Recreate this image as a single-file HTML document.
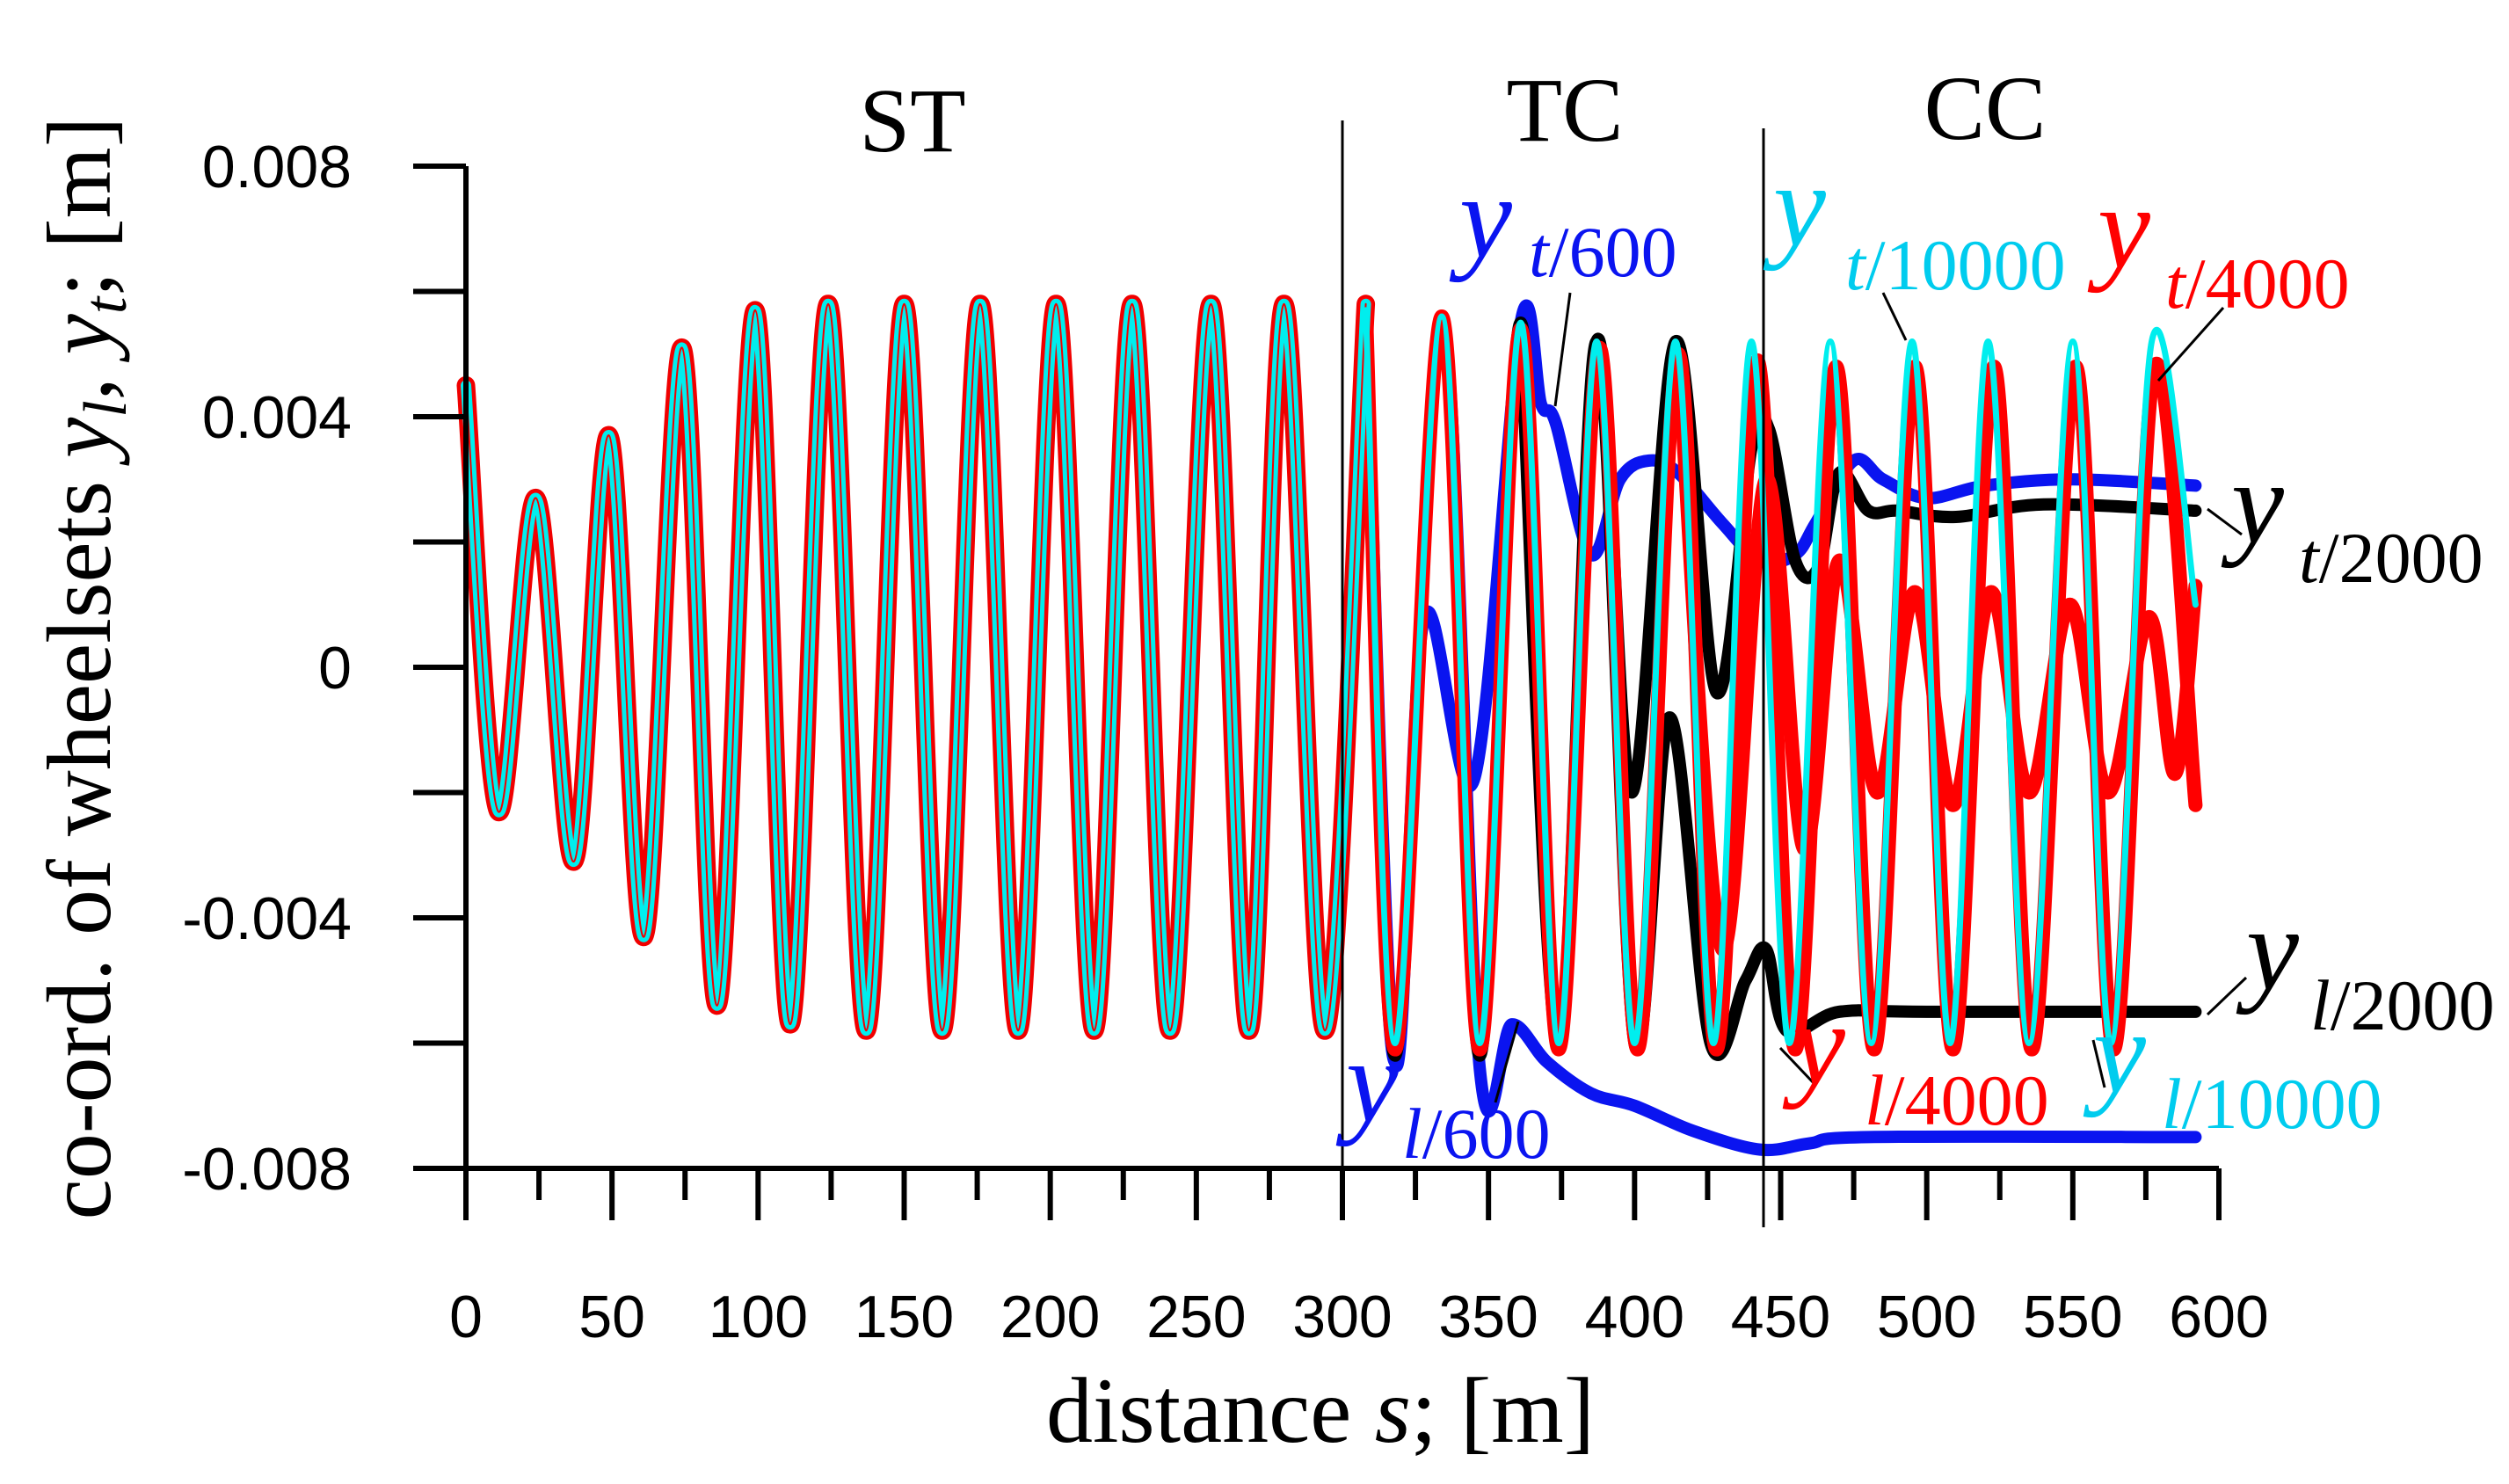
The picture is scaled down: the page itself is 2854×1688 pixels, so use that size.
<!DOCTYPE html>
<html><head><meta charset="utf-8"><style>
html,body{margin:0;padding:0;background:#fff;width:2854px;height:1688px;overflow:hidden}
svg{display:block}
text{font-family:"Liberation Serif",serif}
.tick{font-family:"Liberation Sans",sans-serif;font-size:68px}
</style></head><body>
<svg id="chart" width="2854" height="1688" viewBox="0 0 2854 1688" xmlns="http://www.w3.org/2000/svg">
<g id="marks"></g>
<g id="axes"></g>
<g id="labels"></g>
</svg>
<script>
const xTicks=[0,50,100,150,200,250,300,350,400,450,500,550,600];
const yTicks=[0.008,0.004,0,-0.004,-0.008];
const yTickLabels=["0.008","0.004","0","-0.004","-0.008"];
const stCommon=[[0,0.0045],[11,-0.0023],[24,0.0027],[37,-0.0031],[49,0.0037],[61,-0.0043],[74,0.0051],[86,-0.0054],[99,0.0057],[111,-0.0057],[124,0.0058],[137,-0.0058],[150,0.0058],[163,-0.0058],[176,0.0058],[189,-0.0058],[202,0.0058],[215,-0.0058],[228,0.0058],[241,-0.0058],[255,0.0058],[268,-0.0058],[280,0.0058],[294,-0.0058],[308,0.0058]];
const blueT=[[308,0.0058],[318,-0.0063],[328,0.0008],[345,-0.0018],[361,0.0055],[368,0.0042],[373,0.0039],[385,0.0018],[395,0.0030],[405,0.0033],[415,0.0031],[430,0.0023],[443,0.0017],[455,0.0018],[462,0.0023],[475,0.0033],[485,0.0030],[500,0.0027],[520,0.0029],[550,0.0030],[592,0.0029]];
const blueL=[[308,0.0058],[318,-0.0063],[334,0.0056],[347,-0.0064],[358,-0.0057],[370,-0.0063],[385,-0.0068],[400,-0.0070],[420,-0.0074],[443,-0.0077],[460,-0.0076],[480,-0.0075],[592,-0.0075]];
const blackT=[[308,0.0058],[318,-0.0062],[334,0.0056],[347,-0.0062],[361,0.0055],[374,-0.0061],[387,0.0052],[399,-0.0020],[414,0.0052],[428,-0.0004],[440,0.0035],[446,0.0038],[455,0.0017],[463,0.0016],[470,0.0031],[480,0.0025],[490,0.0025],[510,0.0024],[540,0.0026],[592,0.0025]];
const blackL=[[361,0.0055],[374,-0.0061],[387,0.0052],[400,-0.0060],[412,-0.0008],[426,-0.0060],[438,-0.0050],[445,-0.0045],[452,-0.0058],[470,-0.0055],[500,-0.0055],[592,-0.0055]];
const redL=[[308,0.0058],[318,-0.0061],[334,0.0056],[347,-0.0061],[361,0.0054],[374,-0.0061],[388,0.0051],[401,-0.0061],[415,0.0050],[428,-0.0061],[442,0.0049],[455,-0.0061],[469,0.0048],[482,-0.0061],[496,0.0048],[509,-0.0061],[523,0.0048],[536,-0.0061],[551,0.0048],[564,-0.0061],[578,0.0048],[592,-0.0022]];
const redT=[[415,0.0050],[430,-0.0045],[445,0.0030],[458,-0.0029],[470,0.0017],[483,-0.0020],[496,0.0012],[509,-0.0022],[522,0.0012],[535,-0.0020],[549,0.0010],[562,-0.0020],[576,0.0008],[585,-0.0017],[592,0.0013]];
const cyanS=[[308,0.0057],[318,-0.0060],[334,0.0056],[347,-0.0060],[361,0.0055],[374,-0.0060],[387,0.0052],[400,-0.0060],[414,0.0052],[427,-0.0060],[440,0.0052],[453,-0.0060],[467,0.0052],[481,-0.0060],[495,0.0052],[508,-0.0060],[521,0.0052],[535,-0.0060],[550,0.0052],[563,-0.0060],[577,0.0052],[592,0.0010]];

const NS="http://www.w3.org/2000/svg";
const X=s=>530+s*(2524-530)/600;
const Y=v=>759-v*(1140/0.016);
function mk(tag,attrs,parent){const e=document.createElementNS(NS,tag);for(const k in attrs)e.setAttribute(k,attrs[k]);parent.appendChild(e);return e;}
function smooth(pts){const p=pts.map(d=>[X(d[0]),Y(d[1])]);let d="M"+p[0][0]+","+p[0][1];
 for(let i=0;i<p.length-1;i++){const p0=p[i-1]||p[i],p1=p[i],p2=p[i+1],p3=p[i+2]||p2;
 const c1=[p1[0]+(p2[0]-p0[0])/6,p1[1]+(p2[1]-p0[1])/6],c2=[p2[0]-(p3[0]-p1[0])/6,p2[1]-(p3[1]-p1[1])/6];
 d+=" C"+c1+" "+c2+" "+p2;}return d;}
const marks=document.getElementById('marks');
function series(pts,color,w,name){const e=mk('path',{d:smooth(pts),fill:'none',stroke:color,'stroke-width':w,'stroke-linejoin':'round','stroke-linecap':'round'},marks);

}
series(blueT,'#0a14f0',14,'series-yt-600');
series(blueL,'#0a14f0',14,'series-yl-600');
series(stCommon,'#f00000',21,'series-st-red');
series(blackT,'#000',14,'series-yt-2000');
series(blackL,'#000',14,'series-yl-2000');
series(redL,'#ff0000',16,'series-yl-4000');
series(redT,'#ff0000',16,'series-yt-4000');
series(stCommon,'#00eeee',12,'series-st-cyan');
series(stCommon,'#f00000',2,'series-st-red-center');
series(cyanS,'#00eeee',7,'series-y-10000');

const ax=document.getElementById('axes');
let e;
e=mk('line',{x1:530,y1:189,x2:530,y2:1388,stroke:'#000','stroke-width':6},ax);

e=mk('line',{x1:530,y1:1329,x2:2524,y2:1329,stroke:'#000','stroke-width':6},ax);

xTicks.forEach((t,i)=>{
 let l=mk('line',{x1:X(t),y1:1329,x2:X(t),y2:1388,stroke:'#000','stroke-width':6},ax);
 
 if(i<xTicks.length-1){let m=mk('line',{x1:X(t+25),y1:1329,x2:X(t+25),y2:1365,stroke:'#000','stroke-width':6},ax);
 }
 let tx=mk('text',{x:X(t),y:1521,'text-anchor':'middle',class:'tick'},ax);tx.textContent=String(t);
 
});
yTicks.forEach((v,i)=>{
 let l=mk('line',{x1:470,y1:Y(v),x2:530,y2:Y(v),stroke:'#000','stroke-width':6},ax);
 
 if(i<yTicks.length-1){let m=mk('line',{x1:470,y1:Y(v-0.002),x2:530,y2:Y(v-0.002),stroke:'#000','stroke-width':6},ax);
 }
 let tx=mk('text',{x:400,y:Y(v)+24,'text-anchor':'end',class:'tick'},ax);tx.textContent=yTickLabels[i];
 
});
</script>
<svg style="position:absolute;left:0;top:0" width="2854" height="1688">
<line x1="1527" y1="137" x2="1527" y2="1329" stroke="#000" stroke-width="3"/>
<line x1="2006" y1="146" x2="2006" y2="1396" stroke="#000" stroke-width="3"/>
<text x="1038" y="172" font-size="104" text-anchor="middle">ST</text>
<text x="1780" y="160" font-size="104" text-anchor="middle">TC</text>
<text x="2258" y="158" font-size="104" text-anchor="middle">CC</text>
<text transform="translate(125,760) rotate(-90)" font-size="104" text-anchor="middle">co-ord. of wheelsets <tspan font-style="italic">y</tspan><tspan font-style="italic" font-size="70" dy="18">l</tspan><tspan dy="-18">, </tspan><tspan font-style="italic">y</tspan><tspan font-style="italic" font-size="70" dy="18">t</tspan><tspan dy="-18">; [m]</tspan></text>
<text x="1502" y="1640" font-size="106" text-anchor="middle">distance <tspan font-style="italic">s</tspan>; [m]</text>
<g stroke="#000" stroke-width="3">
<line x1="1769" y1="462" x2="1786" y2="333"/><line x1="2168" y1="387" x2="2142" y2="333"/>
<line x1="2529" y1="350" x2="2455" y2="433"/><line x1="2550" y1="608" x2="2511" y2="579"/>
<line x1="2555" y1="1112" x2="2511" y2="1154"/><line x1="2064" y1="1233" x2="2025" y2="1192"/>
<line x1="2394" y1="1237" x2="2381" y2="1183"/><line x1="1701" y1="1254" x2="1727" y2="1162"/>
</g>
<g font-size="82">
<text fill="#0a14f0"><tspan x="1660" y="292" font-style="italic" font-size="135">y</tspan><tspan x="1739" y="314" font-style="italic">t</tspan><tspan>/600</tspan></text>
<text fill="#00ccee"><tspan x="2017" y="279" font-style="italic" font-size="135">y</tspan><tspan x="2099" y="329" font-style="italic">t</tspan><tspan>/10000</tspan></text>
<text fill="#ff0000"><tspan x="2386" y="304" font-style="italic" font-size="135">y</tspan><tspan x="2463" y="350" font-style="italic">t</tspan><tspan>/4000</tspan></text>
<text fill="#000"><tspan x="2538" y="617" font-style="italic" font-size="135">y</tspan><tspan x="2615" y="662" font-style="italic">t</tspan><tspan>/2000</tspan></text>
<text fill="#000"><tspan x="2555" y="1125" font-style="italic" font-size="135">y</tspan><tspan x="2628" y="1171" font-style="italic">l</tspan><tspan>/2000</tspan></text>
<text fill="#0a14f0"><tspan x="1531" y="1275" font-style="italic" font-size="135">y</tspan><tspan x="1595" y="1317" font-style="italic">l</tspan><tspan>/600</tspan></text>
<text fill="#ff0000"><tspan x="2039" y="1233" font-style="italic" font-size="135">y</tspan><tspan x="2121" y="1279" font-style="italic">l</tspan><tspan>/4000</tspan></text>
<text fill="#00ccee"><tspan x="2381" y="1242" font-style="italic" font-size="135">y</tspan><tspan x="2459" y="1283" font-style="italic">l</tspan><tspan>/10000</tspan></text>
</g>
</svg>
</body></html>
